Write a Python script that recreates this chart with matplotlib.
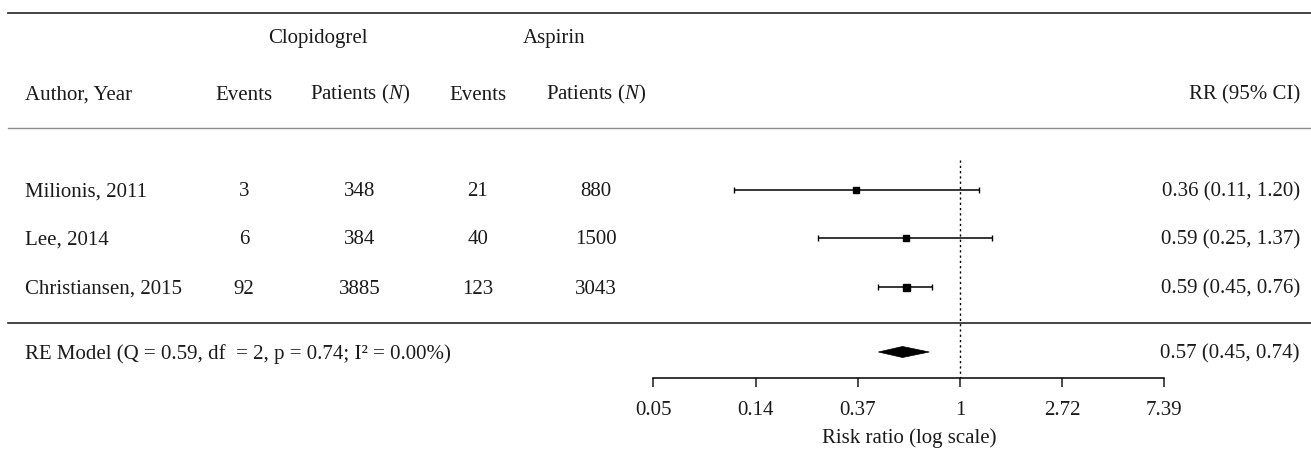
import numpy as np
import matplotlib
matplotlib.use("Agg")
import matplotlib.pyplot as plt
from matplotlib.transforms import blended_transform_factory
from matplotlib.patches import Polygon

# ---------------- data ----------------
studies = ["Milionis, 2011", "Lee, 2014", "Christiansen, 2015"]
clop_events = [3, 6, 92]
clop_patients = [348, 384, 3885]
asp_events = [21, 40, 123]
asp_patients = [880, 1500, 3043]
rr = [0.36, 0.59, 0.59]
rr_lo = [0.11, 0.25, 0.45]
rr_hi = [1.20, 1.37, 0.76]
pooled = 0.57
pooled_lo = 0.45
pooled_hi = 0.74
re_label = "RE Model (Q = 0.59, df  = 2, p = 0.74; I² = 0.00%)"
tick_values = [0.0498, 0.1353, 0.3679, 1.0, 2.7183, 7.3891]
tick_labels = ["0.05", "0.14", "0.37", "1", "2.72", "7.39"]
group_headers = ["Clopidogrel", "Aspirin"]
col_headers = ["Events", "Patients ($\\mathit{N}$)", "Events", "Patients ($\\mathit{N}$)"]

# ---------------- style ----------------
plt.rcParams["font.family"] = ["Liberation Serif", "DejaVu Serif"]
plt.rcParams["mathtext.fontset"] = "custom"
plt.rcParams["mathtext.rm"] = "Liberation Serif"
plt.rcParams["mathtext.it"] = "Liberation Serif:italic"
FS = 15
TXT = "#1a1a1a"

W, H = 1311, 449
AX_BOTTOM = 378  # pixel row of the x axis line
fig = plt.figure(figsize=(W / 100, H / 100), dpi=100)
ax = fig.add_axes([0, (H - AX_BOTTOM) / H, 1, AX_BOTTOM / H])

# x: log scale with ln(1)=0 at px 960, 102.2 px per ln unit
unit = 102.2
ax.set_xscale("log")
ax.set_xlim(np.exp(-960 / unit), np.exp((W - 960) / unit))
ax.set_ylim(AX_BOTTOM, 0)

for s in ["top", "left", "right"]:
    ax.spines[s].set_visible(False)
ax.spines["bottom"].set_bounds(tick_values[0], tick_values[-1])
ax.spines["bottom"].set_linewidth(1.1)
ax.set_yticks([])
ax.set_xticks(tick_values)
ax.set_xticklabels(tick_labels)
ax.xaxis.set_minor_locator(matplotlib.ticker.NullLocator())
ax.tick_params(axis="x", direction="out", length=6.6, width=1.1, pad=9.8,
               labelsize=FS, colors=TXT)
ax.patch.set_alpha(0)

tx = blended_transform_factory(ax.transAxes, ax.transData)
CAP = 6.5  # half cap height in px for baseline placement

def put(px, y, s, ha="left"):
    ax.text(px / W, y + CAP, s, transform=tx, ha=ha, va="baseline",
            fontsize=FS, color=TXT, clip_on=False)

# horizontal rules
ax.plot([8 / W, 1], [13, 13], transform=tx, color="#222222", lw=1.2, clip_on=False)
ax.plot([8 / W, 1], [128, 128], transform=tx, color="#8c8c8c", lw=1.0, clip_on=False)
ax.plot([8 / W, 1], [323, 323], transform=tx, color="#111111", lw=1.1, clip_on=False)

# headers
put(318, 36.5, group_headers[0], ha="center")
put(554, 36.5, group_headers[1], ha="center")
put(25, 93, "Author, Year")
col_x = [244, 360, 478, 596]
for cx, h in zip(col_x, col_headers):
    put(cx, 93, h, ha="center")
put(1300, 93, "RR (95% CI)", ha="right")

# study rows
row_y = [190, 238, 287]
msize_px = [6.5, 5.5, 7.0]
for i, name in enumerate(studies):
    y = row_y[i]
    put(25, y, name)
    for cx, v in zip(col_x, [clop_events[i], clop_patients[i], asp_events[i], asp_patients[i]]):
        put(cx, y, str(v), ha="center")
    put(1300, y, f"{rr[i]:.2f} ({rr_lo[i]:.2f}, {rr_hi[i]:.2f})", ha="right")
    ax.errorbar([rr[i]], [y], xerr=[[rr[i] - rr_lo[i]], [rr_hi[i] - rr[i]]],
                fmt="s", color="black", ms=msize_px[i] * 0.72, elinewidth=1.1,
                capsize=1.9, capthick=1.0)

# reference line at RR = 1
ax.plot([1, 1], [160, AX_BOTTOM], color="black", lw=1.0, linestyle=(0, (1.6, 2.2)))

# pooled estimate
y_re = 352
put(25, y_re, re_label)
put(1300, y_re, f"{pooled:.2f} ({pooled_lo:.2f}, {pooled_hi:.2f})", ha="right")
h = 5.5
ax.add_patch(Polygon([(pooled_lo, y_re), (pooled, y_re - h), (pooled_hi, y_re), (pooled, y_re + h)],
                     closed=True, facecolor="black", edgecolor="black", lw=0.5))

# axis label centered under the tick range
xc = np.sqrt(tick_values[0] * tick_values[-1])
ax.text(xc, 443, "Risk ratio (log scale)", ha="center", va="baseline",
        fontsize=FS, color=TXT, clip_on=False)

fig.savefig("out.png", dpi=100)
